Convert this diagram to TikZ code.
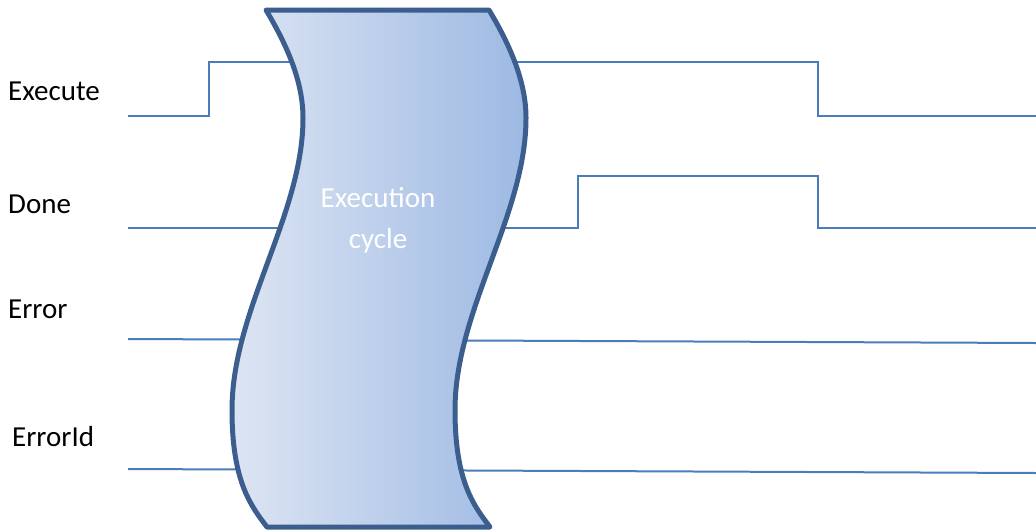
\documentclass[tikz,border=0pt]{standalone}
\usepackage{fontspec}
\setmainfont{Carlito}
\definecolor{sigblue}{HTML}{4A7EBB}
\definecolor{bandedge}{HTML}{3B5E8E}
\definecolor{bandlight}{HTML}{DDE5F3}
\definecolor{banddark}{HTML}{9DB9E3}
\tikzset{
  signal/.style={draw=sigblue, line width=2pt, line join=miter},
  siglabel/.style={anchor=base west, inner sep=0pt, font=\fontsize{29}{34}\selectfont},
  bandtext/.style={anchor=base, inner sep=0pt, align=center, text=white,
    font=\fontsize{29}{41}\selectfont},
}
\begin{document}
\begin{tikzpicture}[x=1pt, y=-1pt]
\useasboundingbox (0,0) rectangle (1036,531);

% signal names
\node[siglabel] (lexec) at (8,100) {Execute};
\node[siglabel] (ldone) at (8,213) {Done};
\node[siglabel] (lerr)  at (8,318) {Error};
\node[siglabel] (lerrid) at (12,446) {ErrorId};

% signal traces (drawn first, the cycle band covers them)
\coordinate (e0) at (128,116);  \coordinate (e1) at (209,116);
\coordinate (e2) at (209,62);   \coordinate (e3) at (818,62);
\coordinate (e4) at (818,116);  \coordinate (e5) at (1036,116);
\draw[signal] (e0) -- (e1) -- (e2) -- (e3) -- (e4) -- (e5);

\coordinate (d0) at (128,228);  \coordinate (d1) at (578,228);
\coordinate (d2) at (578,176);  \coordinate (d3) at (818,176);
\coordinate (d4) at (818,228);  \coordinate (d5) at (1036,228);
\draw[signal] (d0) -- (d1) -- (d2) -- (d3) -- (d4) -- (d5);

\coordinate (r0) at (128,339);  \coordinate (r1) at (1036,343);
\draw[signal] (r0) -- (r1);

\coordinate (i0) at (128,469);  \coordinate (i1) at (1036,473);
\draw[signal] (i0) -- (i1);

% execution cycle band
\path[draw=bandedge, line width=5pt, line join=round,
      left color=bandlight, right color=banddark]
  (266,10) -- (489,10)
  .. controls (513,50) and (526,85) .. (526,118)
  .. controls (526,215) and (455,310) .. (455,410)
  .. controls (455,480) and (473,505) .. (490,527)
  -- (267,527)
  .. controls (250,505) and (232,480) .. (232,410)
  .. controls (232,310) and (303,215) .. (303,118)
  .. controls (303,85) and (290,50) .. cycle;

% the base anchor of the two-line text sits on its last line
\node[bandtext] (cyc) at (378,248) {Execution\\cycle};
\end{tikzpicture}
\end{document}
